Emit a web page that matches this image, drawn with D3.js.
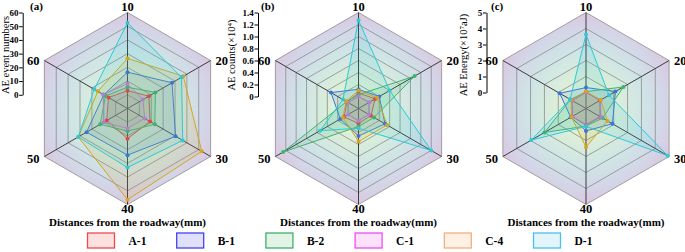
<!DOCTYPE html>
<html>
<head>
<meta charset="utf-8">
<script src="https://cdn.jsdelivr.net/npm/d3@7"></script>
<style>
  body { margin: 0; background: #fff; }
  svg { display: block; font-family: "Liberation Serif", "Times New Roman", serif; }
</style>
</head>
<body>
<svg width="685" height="252"></svg>
<script>
// distances from the roadway (radar axes, clockwise from top)
const distances = ["10", "20", "30", "40", "50", "60"];
const seriesNames = ["A-1", "B-1", "B-2", "C-1", "C-4", "D-1"];

// (a) AE event numbers
const eventsA1 = [3, 8, 9, 12, 7.5, 6];
const eventsB1 = [16.5, 27.5, 30.5, 24, 24.5, 10];
const eventsB2 = [5.5, 13.5, 13, 6.5, 13, 8.5];
const eventsC1 = [8, 3, 4.5, 4.5, 10, 10.5];
const eventsC4 = [26.5, 37, 52.5, 56.5, 31.5, 15];
const eventsD1 = [52.5, 35.5, 36.5, 33, 31.5, 18];

// (b) AE counts (x10^4)
const countsA1 = [0.06, 0.12, 0.04, 0.05, 0.08, 0.02];
const countsB1 = [0.12, 0.2, 0.31, 0.26, 0.15, 0.33];
const countsB2 = [0.03, 0.88, 0.1, 0.1, 1.25, 0.03];
const countsC1 = [0, 0.01, 0, 0.01, 0, 0];
const countsC4 = [0.1, 0.16, 0.35, 0.35, 0.1, 0.04];
const countsD1 = [1.27, 0.4, 1.2, 0.13, 0.54, 0.1];

// (c) AE energy (x10^7 aJ)
const energyA1 = [0.02, 0.03, 0.05, 0.05, 0, 0];
const energyB1 = [0.31, 1.12, 0.91, 0.4, 0.1, 0.9];
const energyB2 = [0.05, 1.7, 0.2, 0.1, 2.0, 0.12];
const energyC1 = [0, 0.05, 0.07, 0.04, 0, 0];
const energyC4 = [0.06, 0.07, 0.55, 1.42, 0.05, 0.06];
const energyD1 = [3.63, 0.66, 4.9, 0.12, 2.95, 0.15];

// colours
const lineColors = ["#e04848", "#3a76d8", "#3db46e", "#b47ed6", "#d8a41e", "#2ccad6"];
const legendStroke = ["#f04a4a", "#4444ee", "#3fb06c", "#f04cf0", "#f4ae80", "#4cbfee"];
const legendFill = ["#fde0e0", "#e0e0fa", "#e2f4e8", "#fde2fd", "#fff0e4", "#e2f4fc"];

let R = 96, cy = 108.5;

let panels = [
  { tag: "(a)", title: "AE event numbers", cx: 127.5, axisX: 22.7, min: -10, max: 60, step: 10,
    data: [eventsA1, eventsB1, eventsB2, eventsC1, eventsC4, eventsD1], titleX: 9.2, tagX: 30 },
  { tag: "(b)", title: "AE counts(×10⁴)", cx: 358.5, axisX: 258, min: -0.2, max: 1.4, step: 0.2,
    data: [countsA1, countsB1, countsB2, countsC1, countsC4, countsD1], titleX: 235, tagX: 261 },
  { tag: "(c)", title: "AE Energy(×10⁷aJ)", cx: 586, axisX: 486.5, min: -1, max: 5, step: 1,
    data: [energyA1, energyB1, energyB2, energyC1, energyC4, energyD1], titleX: 466.5, tagX: 491 }
];

let svg = d3.select("svg");

// background gradient of the radar hexagon
let grad = svg.append("defs").append("radialGradient")
  .attr("id", "hexFill")
  .attr("gradientUnits", "userSpaceOnUse")
  .attr("cx", 0).attr("cy", 0).attr("r", R);
[[0, "#f3f8cf"], [0.3, "#dcefd8"], [0.6, "#cfe5e6"], [0.82, "#d3d6e7"], [1, "#dbc7df"]]
  .forEach(s => grad.append("stop").attr("offset", s[0]).attr("stop-color", s[1]));

let angle = i => i * Math.PI / 3;

panels.forEach(p => {
  let rScale = d3.scaleLinear().domain([p.min, p.max]).range([0, R]);
  let g = svg.append("g").attr("transform", `translate(${p.cx},${cy})`);

  let hex = d3.lineRadial()
    .angle((d, i) => angle(i))
    .radius(d => rScale(d))
    .curve(d3.curveLinearClosed);

  // background hexagon
  g.append("path")
    .attr("d", hex(distances.map(() => p.max)))
    .attr("fill", "url(#hexFill)");

  // rings
  let ringVals = d3.range(p.min + p.step, p.max + p.step / 2, p.step);
  g.selectAll(".ring")
    .data(ringVals)
    .enter()
    .append("path")
      .attr("d", v => hex(distances.map(() => v)))
      .attr("fill", "none")
      .attr("stroke", "#8c8c8c")
      .attr("stroke-width", 0.8);

  // spokes
  g.selectAll(".spoke")
    .data(distances)
    .enter()
    .append("line")
      .attr("x1", 0).attr("y1", 0)
      .attr("x2", (d, i) => R * Math.sin(angle(i)))
      .attr("y2", (d, i) => -R * Math.cos(angle(i)))
      .attr("stroke", "#3c3c3c")
      .attr("stroke-width", 1);

  // series polygons
  p.data.forEach((vals, k) => {
    g.append("path")
      .attr("d", hex(vals))
      .attr("fill", lineColors[k])
      .attr("fill-opacity", 0.13)
      .attr("stroke", lineColors[k])
      .attr("stroke-width", 1);
  });
  p.data.forEach((vals, k) => {
    g.selectAll(null)
      .data(vals)
      .enter()
      .append("circle")
        .attr("cx", (d, i) => rScale(d) * Math.sin(angle(i)))
        .attr("cy", (d, i) => -rScale(d) * Math.cos(angle(i)))
        .attr("r", 2)
        .attr("fill", lineColors[k]);
  });

  // axis category labels
  let labelPos = [[0, -97.3, "middle"], [88, -44, "start"], [88, 54, "start"],
                  [0, 104.5, "middle"], [-88, 54, "end"], [-88, -44, "end"]];
  g.selectAll(".cat")
    .data(distances)
    .enter()
    .append("text")
      .attr("x", (d, i) => labelPos[i][0])
      .attr("y", (d, i) => labelPos[i][1])
      .attr("text-anchor", (d, i) => labelPos[i][2])
      .attr("font-size", 12.5)
      .attr("font-weight", "bold")
      .text(d => d);

  // x title
  g.append("text")
    .attr("x", 0).attr("y", 117)
    .attr("text-anchor", "middle")
    .attr("font-size", 11)
    .attr("font-weight", "bold")
    .text("Distances from the roadway(mm)");

  // value axis on the left
  let yScale = d3.scaleLinear().domain([0, p.max]).range([cy - rScale(0), cy - R]);
  let fmt = p.step < 1 ? (d => d === 0 ? "0" : d3.format(".1f")(d)) : d3.format("d");
  let ax = svg.append("g")
    .attr("transform", `translate(${p.axisX},0)`)
    .call(d3.axisLeft(yScale)
      .tickValues(d3.range(0, p.max + p.step / 2, p.step))
      .tickSize(3.5).tickPadding(0.8).tickSizeOuter(0).tickFormat(fmt));
  ax.selectAll("text")
    .attr("font-family", "Liberation Serif")
    .attr("font-size", 9)
    .attr("font-weight", "bold")
    .attr("fill", "#000");
  ax.select(".domain").attr("stroke", "#000");
  ax.selectAll("line").attr("stroke", "#000");

  svg.append("text")
    .attr("transform", `translate(${p.titleX},${55}) rotate(-90)`)
    .attr("text-anchor", "middle")
    .attr("font-size", 10.5)
    .text(p.title);

  svg.append("text")
    .attr("x", p.tagX).attr("y", 10)
    .attr("font-size", 11)
    .attr("font-weight", "bold")
    .text(p.tag);
});

// legend
let legend = svg.append("g")
  .selectAll("g")
  .data(seriesNames)
  .enter()
  .append("g")
    .attr("transform", (d, i) => `translate(${87.5 + i * 89.2},233)`);
legend.append("rect")
  .attr("width", 27).attr("height", 15)
  .attr("fill", (d, i) => legendFill[i])
  .attr("stroke", (d, i) => legendStroke[i])
  .attr("stroke-width", 1.3);
legend.append("text")
  .attr("x", 41).attr("y", 12)
  .attr("font-size", 11.5)
  .attr("font-weight", "bold")
  .text(d => d);
</script>
</body>
</html>
